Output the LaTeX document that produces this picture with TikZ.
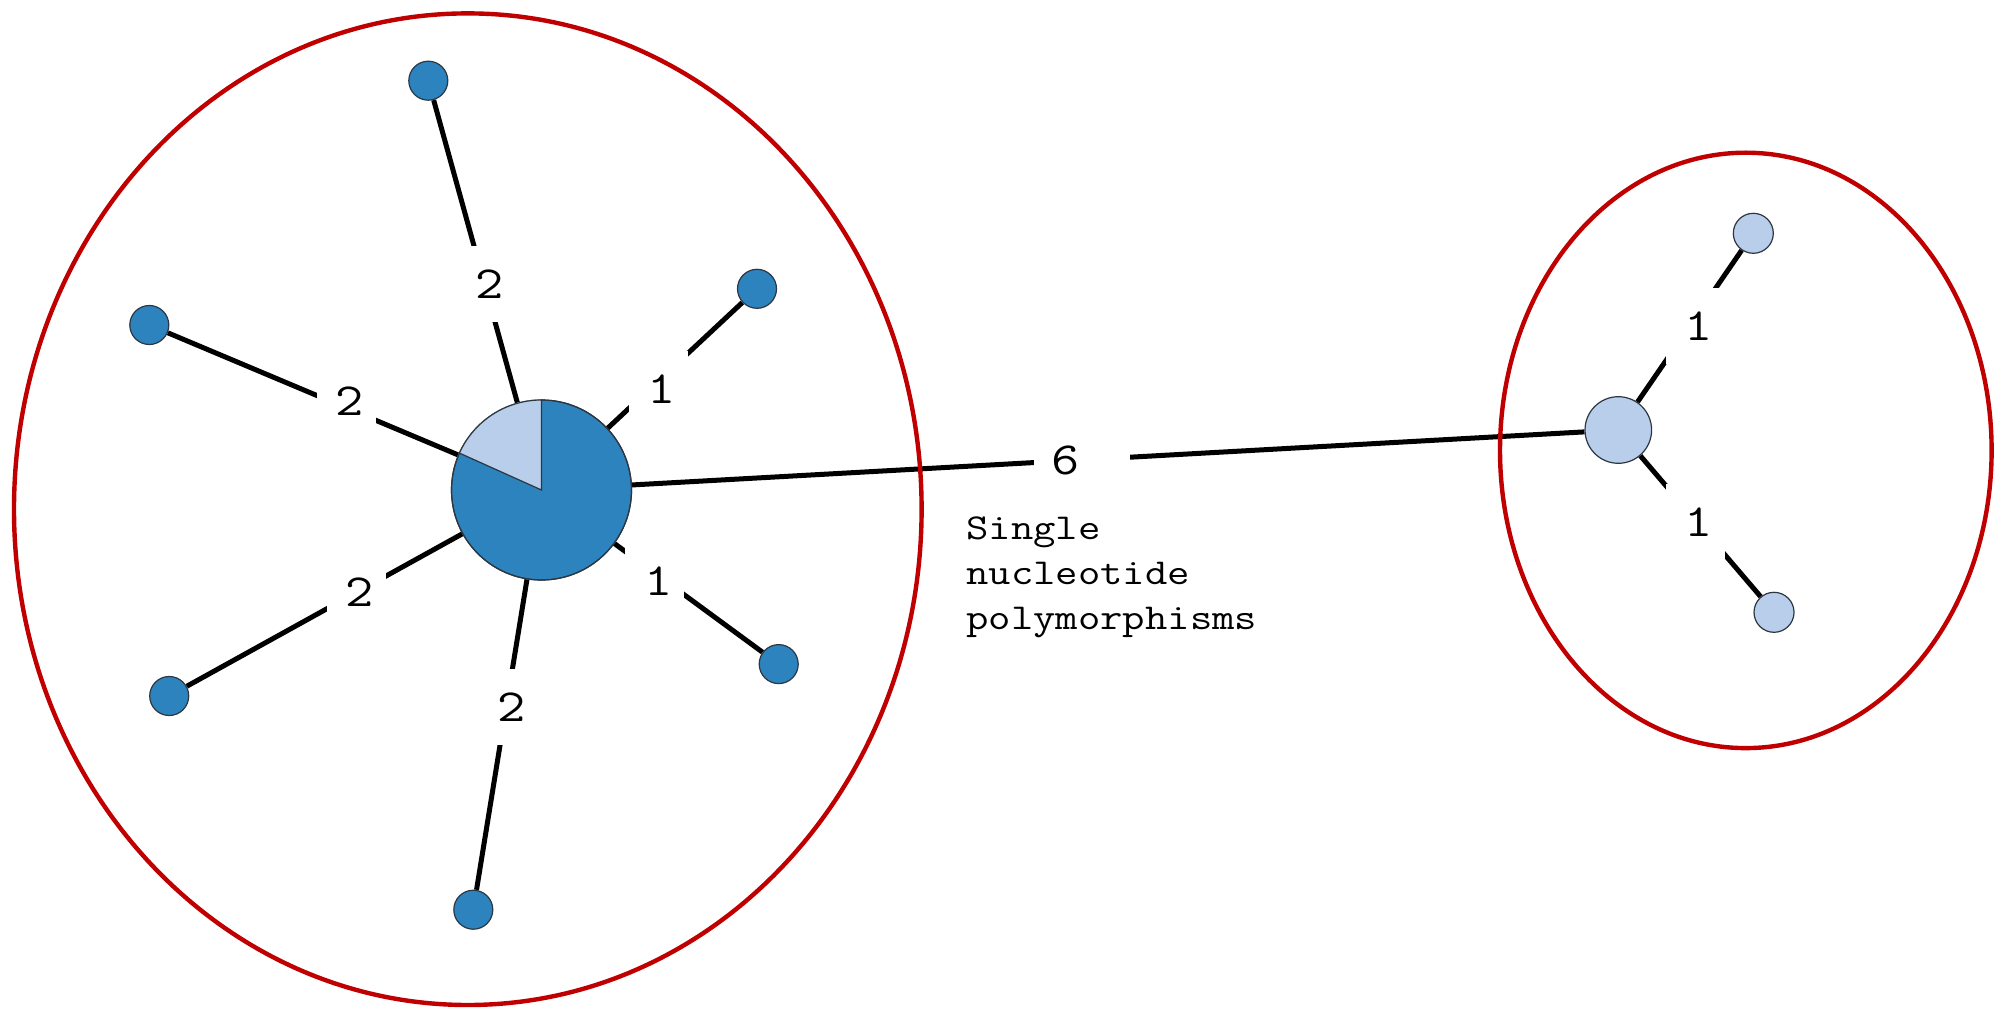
\documentclass[tikz,border=0pt]{standalone}
\usepackage{fontspec}
\usetikzlibrary{backgrounds}
\newfontfamily\monofont{Latin Modern Mono}[FakeStretch=1.19]
\definecolor{hapdark}{RGB}{44,131,190}
\definecolor{haplight}{RGB}{184,206,235}
\definecolor{hapedge}{RGB}{45,55,65}
\definecolor{groupred}{RGB}{192,0,0}
% pads a mutation count inside its white box
\newcommand\mutnum[1]{\hspace*{9.4pt}#1\hspace*{5.9pt}}
\tikzset{
  hap/.style={circle, inner sep=0pt, draw=hapedge, line width=0.6pt},
  smalldark/.style={hap, fill=hapdark, minimum size=19.5pt},
  smalllight/.style={hap, fill=haplight, minimum size=20pt},
  link/.style={line width=2.5pt, black},
  numlabel/.style={fill=white, inner xsep=0pt, inner ysep=0pt, minimum height=38pt,
    font=\monofont\fontsize{23pt}{23pt}\selectfont},
  group/.style={draw=groupred, line width=2.2pt},
  note/.style={inner sep=0pt, anchor=north west, align=left,
    font=\monofont\fontsize{18.25pt}{22.6pt}\selectfont}
}
\begin{document}
\begin{tikzpicture}[x=0.5pt, y=0.5pt]
\useasboundingbox (0,0) rectangle (1995,-1010);

% haplotypes
\node[hap, fill=hapdark, minimum size=90pt] (hub) at (541.5,-490) {};
\fill[haplight] (hub.center) -- (hub.90) arc[start angle=90, end angle=155.8, radius=45pt] -- cycle;
\draw[hapedge, line width=0.6pt] (hub.90) -- (hub.center) -- ++(155.8:45pt);
\draw[hapedge, line width=0.6pt] (hub) circle[radius=45pt];

\node[smalldark] (a) at (428.3,-80.7) {};
\node[smalldark] (b) at (149.3,-325) {};
\node[smalldark] (c) at (757,-288.8) {};
\node[smalldark] (d) at (778.7,-664.1) {};
\node[smalldark] (e) at (169.2,-696) {};
\node[smalldark] (f) at (473.3,-909.7) {};

\node[hap, fill=haplight, minimum size=33.3pt] (rhub) at (1618.3,-430) {};
\node[smalllight] (g) at (1753.3,-233.3) {};
\node[smalllight] (h) at (1774,-612.3) {};

% network links
\begin{pgfonlayer}{background}
\draw[link] (a) -- (hub);
\draw[link] (b) -- (hub);
\draw[link] (c) -- (hub);
\draw[link] (d) -- (hub);
\draw[link] (e) -- (hub);
\draw[link] (f) -- (hub);
\draw[link] (hub) -- (rhub);
\draw[link] (g) -- (rhub);
\draw[link] (h) -- (rhub);
\end{pgfonlayer}

% groups
\draw[group] (467.8,-509.2) ellipse[x radius=226.9pt, y radius=247.9pt];
\draw[group] (1745.8,-450.4) ellipse[x radius=122.9pt, y radius=148.85pt];

% mutation counts
\node[numlabel] (la) at (486.5,-284) {\mutnum{2}};
\node[numlabel] (lb) at (346.5,-400.7) {\mutnum{2}};
\node[numlabel] (lc) at (658.2,-389) {\mutnum{1}};
\node[numlabel] (ld) at (654.8,-580.7) {\mutnum{1}};
\node[numlabel] (le) at (356.5,-592.3) {\mutnum{2}};
\node[numlabel] (lf) at (508.2,-707.3) {\mutnum{2}};
\node[numlabel] (lg) at (1695.5,-325.7) {\mutnum{1}};
\node[numlabel] (lh) at (1695.5,-522.3) {\mutnum{1}};
\node[numlabel] (lmain) at (1082,-460.6) {\hspace*{8.9pt}6\hspace*{24.9pt}};

\node[note] (snp) at (966,-516) {Single\\nucleotide\\polymorphisms};
\end{tikzpicture}
\end{document}
